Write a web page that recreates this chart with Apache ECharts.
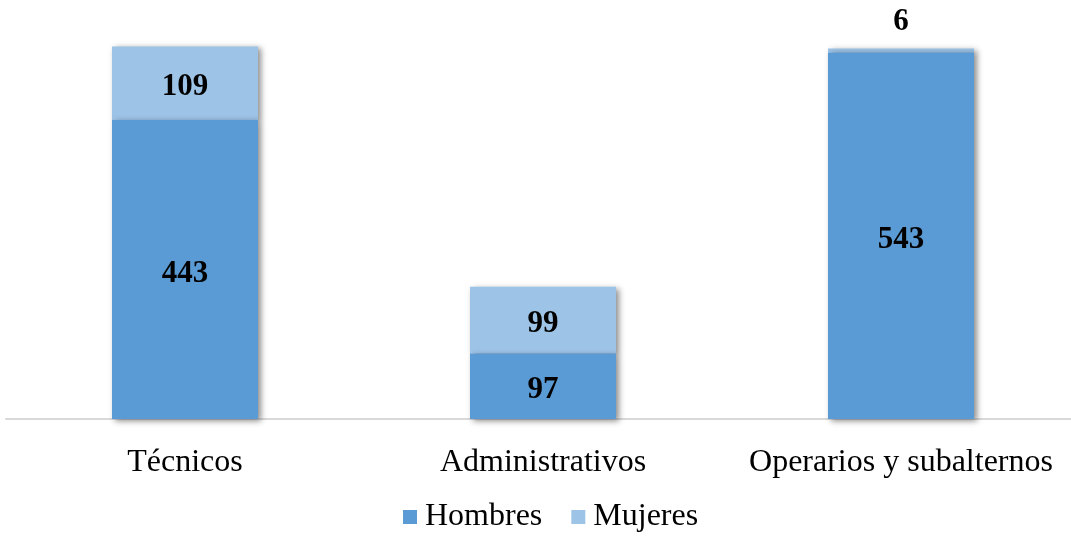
<!DOCTYPE html>
<html>
<head>
<meta charset="utf-8">
<script src="https://cdn.jsdelivr.net/npm/echarts@6/dist/echarts.min.js"></script>
<style>
  html, body { margin: 0; padding: 0; background: #fff; }
  #chart { width: 1071px; height: 536px; }
</style>
</head>
<body>
<div id="chart"></div>
<script>
const categories = ['Técnicos', 'Administrativos', 'Operarios y subalternos']
const hombres = [443, 97, 543]
const mujeres = [109, 99, 6]

const chart = echarts.init(document.getElementById('chart'))

const shadow = {
  shadowColor: 'rgba(0, 0, 0, 0.45)',
  shadowBlur: 6,
  shadowOffsetX: 3,
  shadowOffsetY: 2
}

const labelStyle = {
  show: true,
  fontFamily: 'Liberation Serif',
  fontWeight: 'bold',
  fontSize: 31,
  color: '#000',
  offset: [0, 4]
}

// small segments get their label above the bar
const mujeresData = mujeres.map(v => {
  if (v < 30) {
    return { value: v, label: { position: 'top', distance: 15 } }
  }
  return v
})

chart.setOption({
  animation: false,
  textStyle: { fontFamily: 'Liberation Serif' },
  grid: { left: 6, top: 14, width: 1074, height: 405, outerBoundsMode: 'none', containLabel: false },
  legend: {
    left: 403,
    top: 501,
    padding: 0,
    itemWidth: 14,
    itemHeight: 14,
    itemGap: 29,
    icon: 'rect',
    textStyle: { fontSize: 32, color: '#000', fontFamily: 'Liberation Serif', padding: [0, 0, 0, 3] },
    data: ['Hombres', 'Mujeres']
  },
  xAxis: {
    type: 'category',
    data: categories,
    axisLine: { lineStyle: { color: '#D9D9D9', width: 2 } },
    axisTick: { show: false },
    axisLabel: {
      interval: 0,
      hideOverlap: false,
      fontSize: 32,
      color: '#000',
      margin: 28,
      fontFamily: 'Liberation Serif'
    }
  },
  yAxis: {
    type: 'value',
    min: 0,
    max: 600,
    show: false,
    splitLine: { show: false }
  },
  series: [
    {
      name: 'Hombres',
      type: 'bar',
      stack: 'total',
      barWidth: 146,
      z: 3,
      data: hombres,
      itemStyle: Object.assign({ color: '#5B9BD5' }, shadow),
      label: Object.assign({ position: 'inside' }, labelStyle)
    },
    {
      name: 'Mujeres',
      type: 'bar',
      stack: 'total',
      barWidth: 146,
      z: 2,
      data: mujeresData,
      itemStyle: Object.assign({ color: '#9DC3E6' }, shadow),
      label: Object.assign({ position: 'inside' }, labelStyle)
    }
  ]
})
</script>
</body>
</html>
